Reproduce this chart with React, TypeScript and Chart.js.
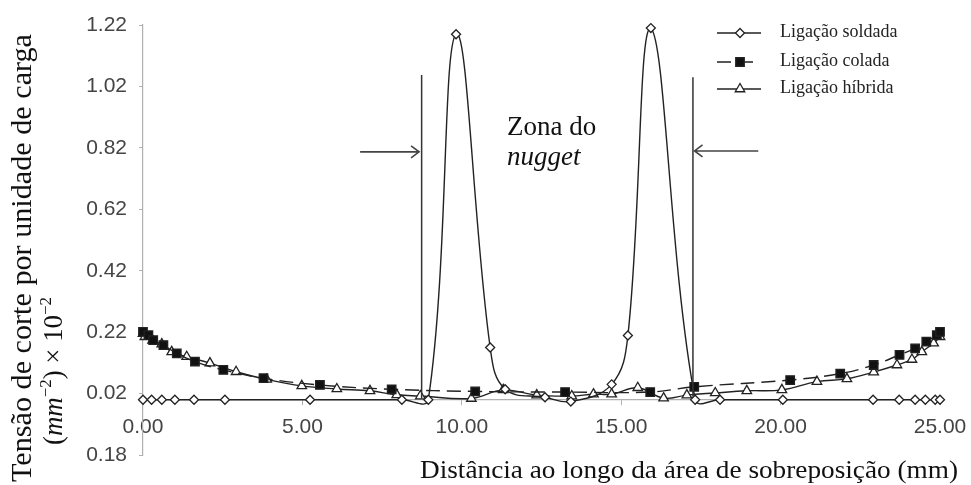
import React, { useEffect, useRef } from "react";
import { Chart, registerables } from "chart.js";

Chart.register(...registerables);

// ---------- data ----------
const soldadaX = [0, 0.27, 0.59, 1.0, 1.6, 2.57, 5.24, 8.12, 8.95, 9.82, 10.89, 11.36, 12.61, 13.42, 14.7, 15.21, 15.93, 17.32, 18.1, 20.07, 22.9, 23.72, 24.22, 24.54, 24.85, 25.0];
const soldadaY = [0, 0, 0, 0, 0, 0, 0, 0, 0, 1.19, 0.17, 0.034, 0.008, -0.006, 0.05, 0.209, 1.21, 0, 0, 0, 0, 0, 0, 0, 0, 0];

const coladaX = [0, 0.17, 0.32, 0.64, 1.06, 1.63, 2.52, 3.78, 5.55, 7.8, 10.42, 13.24, 15.91, 17.29, 20.3, 21.87, 22.92, 23.73, 24.22, 24.57, 24.9, 25.0];
const coladaY = [0.221, 0.21, 0.194, 0.178, 0.151, 0.124, 0.097, 0.07, 0.048, 0.034, 0.027, 0.025, 0.025, 0.042, 0.064, 0.085, 0.113, 0.146, 0.167, 0.189, 0.21, 0.221];

const hibridaX = [0, 0.06, 0.3, 0.59, 0.9, 1.37, 2.1, 2.92, 3.88, 4.98, 6.08, 7.12, 7.96, 8.7, 10.3, 11.3, 12.35, 13.45, 14.13, 14.7, 15.52, 16.33, 17.06, 17.95, 18.94, 20.04, 21.14, 22.08, 22.92, 23.65, 24.12, 24.43, 24.8, 25.0];
const hibridaY = [0.215, 0.205, 0.193, 0.181, 0.156, 0.14, 0.119, 0.091, 0.066, 0.045, 0.035, 0.029, 0.016, 0.012, 0.004, 0.032, 0.015, 0.012, 0.018, 0.018, 0.039, 0.005, 0.015, 0.022, 0.029, 0.032, 0.059, 0.068, 0.09, 0.113, 0.131, 0.156, 0.184, 0.205];

const seriesNames = ["Ligação soldada", "Ligação colada", "Ligação híbrida"];

const xTickValues = [0, 5, 10, 15, 20, 25];
const xTickLabels = ["0.00", "5.00", "10.00", "15.00", "20.00", "25.00"];
const yTickValues = [-0.18, 0.02, 0.22, 0.42, 0.62, 0.82, 1.02, 1.22];
const yTickLabels = ["0.18", "0.02", "0.22", "0.42", "0.62", "0.82", "1.02", "1.22"];

const xTitle = "Distância ao longo da área de sobreposição (mm)";
const yTitle1 = "Tensão de corte por unidade de carga";
const zoneLine1 = "Zona do";
const zoneLine2 = "nugget";

// nugget zone annotation (data coordinates)
const nuggetLeftX = 8.74;
const nuggetRightX = 17.25;

const SERIF = "'Liberation Serif', 'Times New Roman', serif";
const SANS = "'Liberation Sans', Arial, sans-serif";
const INK = "#222";

const pts = (xs: number[], ys: number[]) => xs.map((x, i) => ({ x, y: ys[i] }));

function fitText(ctx: CanvasRenderingContext2D, text: string, x: number, y: number, width: number) {
  const w = ctx.measureText(text).width;
  ctx.save();
  ctx.translate(x, y);
  ctx.scale(width / w, 1);
  ctx.fillText(text, 0, 0);
  ctx.restore();
}

function drawMarker(ctx: CanvasRenderingContext2D, style: string, x: number, y: number, r: number, fill: string) {
  ctx.beginPath();
  if (style === "rectRot") {
    ctx.moveTo(x, y - r); ctx.lineTo(x + r, y); ctx.lineTo(x, y + r); ctx.lineTo(x - r, y); ctx.closePath();
  } else if (style === "rect") {
    const s = r * Math.SQRT1_2;
    ctx.rect(x - s, y - s, 2 * s, 2 * s);
  } else {
    const a = Math.PI * 2 / 3;
    ctx.moveTo(x, y - r);
    ctx.lineTo(x + Math.sin(a) * r, y - Math.cos(a) * r);
    ctx.lineTo(x + Math.sin(2 * a) * r, y - Math.cos(2 * a) * r);
    ctx.closePath();
  }
  ctx.fillStyle = fill;
  ctx.fill();
  ctx.setLineDash([]);
  ctx.lineWidth = 1.3;
  ctx.strokeStyle = INK;
  ctx.stroke();
}

const overlayPlugin = {
  id: "overlay",
  afterDraw(chart: any) {
    const ctx: CanvasRenderingContext2D = chart.ctx;
    const xs = chart.scales.x;
    const ys = chart.scales.y;
    const px = (v: number) => xs.getPixelForValue(v);
    const py = (v: number) => ys.getPixelForValue(v);
    ctx.save();

    // nugget zone vertical lines
    ctx.strokeStyle = "#333";
    ctx.lineWidth = 1.5;
    ctx.setLineDash([]);
    ctx.beginPath();
    ctx.moveTo(px(nuggetLeftX), py(1.057));
    ctx.lineTo(px(nuggetLeftX), py(0.005));
    ctx.moveTo(px(nuggetRightX), py(1.05));
    ctx.lineTo(px(nuggetRightX), py(0.01));
    ctx.stroke();

    // arrows
    const arrow = (x0: number, x1: number, yv: number) => {
      const X0 = px(x0), X1 = px(x1), Y = py(yv);
      const dir = Math.sign(X1 - X0);
      ctx.beginPath();
      ctx.moveTo(X0, Y); ctx.lineTo(X1, Y);
      ctx.moveTo(X1 - dir * 8, Y - 6); ctx.lineTo(X1, Y); ctx.lineTo(X1 - dir * 8, Y + 6);
      ctx.stroke();
    };
    ctx.strokeStyle = "#444";
    ctx.lineWidth = 1.6;
    arrow(6.81, 8.66, 0.807);
    arrow(19.3, 17.3, 0.81);

    // zone text
    ctx.fillStyle = "#111";
    ctx.textAlign = "left";
    ctx.textBaseline = "alphabetic";
    ctx.font = `27px ${SERIF}`;
    ctx.fillText(zoneLine1, px(11.42), py(0.862));
    ctx.font = `italic 27px ${SERIF}`;
    ctx.fillText(zoneLine2, px(11.42), py(0.764));

    // x title
    ctx.font = `25px ${SERIF}`;
    ctx.fillStyle = "#111";
    fitText(ctx, xTitle, 420, 478, 538);

    // y title line 1
    ctx.save();
    ctx.translate(31, 482);
    ctx.rotate(-Math.PI / 2);
    ctx.font = `29px ${SERIF}`;
    fitText(ctx, yTitle1, 0, 0, 448);
    ctx.restore();

    // y title line 2 : (mm^-2) x 10^-2
    ctx.save();
    ctx.translate(62, 445);
    ctx.rotate(-Math.PI / 2);
    const big = 27, small = 17;
    const parts: { t: string; f: string; dy: number }[] = [
      { t: "(", f: `${big}px ${SERIF}`, dy: 0 },
      { t: "mm", f: `italic ${big}px ${SERIF}`, dy: 0 },
      { t: "\u22122", f: `${small}px ${SERIF}`, dy: -11 },
      { t: ") × 10", f: `${big}px ${SERIF}`, dy: 0 },
      { t: "\u22122", f: `${small}px ${SERIF}`, dy: -11 },
    ];
    let total = 0;
    for (const p of parts) { ctx.font = p.f; total += ctx.measureText(p.t).width; }
    const sx = 148 / total;
    ctx.scale(sx, 1);
    let cx = 0;
    for (const p of parts) {
      ctx.font = p.f;
      ctx.fillText(p.t, cx, p.dy);
      cx += ctx.measureText(p.t).width;
    }
    ctx.restore();

    // legend
    const legendRows = [
      { y: 33, style: "rectRot", r: 4.5, fill: "#fff", dash: [] as number[] },
      { y: 62, style: "rect", r: 6, fill: "#111", dash: [14, 8] },
      { y: 89, style: "triangle", r: 5.5, fill: "#fff", dash: [] as number[] },
    ];
    legendRows.forEach((row, i) => {
      ctx.strokeStyle = INK;
      ctx.lineWidth = 1.5;
      ctx.setLineDash(row.dash);
      ctx.beginPath();
      ctx.moveTo(717, row.y);
      ctx.lineTo(761, row.y);
      ctx.stroke();
      ctx.setLineDash([]);
      drawMarker(ctx, row.style, 740, row.y, row.r, row.fill);
      ctx.fillStyle = "#222";
      ctx.font = `18px ${SERIF}`;
      ctx.textBaseline = "alphabetic";
      ctx.fillText(seriesNames[i], 780, row.y + 4);
    });

    ctx.restore();
  },
};

export default function App() {
  const canvasRef = useRef<HTMLCanvasElement | null>(null);

  useEffect(() => {
    if (!canvasRef.current) return;
    const common = {
      borderColor: INK,
      borderWidth: 1.4,
      pointBorderColor: INK,
      pointBorderWidth: 1.3,
      tension: 0.4,
      fill: false,
      clip: false as any,
    };
    const chart = new Chart(canvasRef.current, {
      type: "line",
      data: {
        datasets: [
          {
            ...common,
            label: seriesNames[0],
            data: pts(soldadaX, soldadaY),
            pointStyle: "rectRot",
            pointRadius: 4.5,
            pointBackgroundColor: "#fff",
          },
          {
            ...common,
            label: seriesNames[1],
            data: pts(coladaX, coladaY),
            borderDash: [14, 7],
            pointStyle: "rect",
            pointRadius: 6,
            pointBackgroundColor: "#111",
          },
          {
            ...common,
            label: seriesNames[2],
            data: pts(hibridaX, hibridaY),
            pointStyle: "triangle",
            pointRadius: 5.5,
            pointBackgroundColor: "#fff",
          },
        ],
      },
      options: {
        animation: false,
        responsive: false,
        events: [],
        layout: { padding: { top: 25, right: 31, left: 0, bottom: 30 } },
        plugins: { legend: { display: false }, tooltip: { enabled: false } },
        scales: {
          x: {
            type: "linear",
            min: 0,
            max: 25,
            position: { y: 0 } as any,
            afterBuildTicks: (s: any) => { s.ticks = xTickValues.map((v) => ({ value: v })); },
            afterFit: (s: any) => { s.height = 26; s.paddingLeft = 0; s.paddingRight = 0; },
            ticks: {
              callback: (_v: any, i: number) => xTickLabels[i],
              font: { family: SANS, size: 21 },
              color: "#444",
              padding: 10,
              maxRotation: 0,
              autoSkip: false,
            },
            grid: { drawOnChartArea: false, drawTicks: true, tickLength: 5, color: "#b0b0b0" },
            border: { display: true, color: "#b0b0b0", width: 1.2 },
          },
          y: {
            type: "linear",
            min: -0.18,
            max: 1.22,
            afterBuildTicks: (s: any) => { s.ticks = yTickValues.map((v) => ({ value: v })); },
            afterFit: (s: any) => { s.width = 143; s.paddingTop = 0; s.paddingBottom = 0; },
            ticks: {
              callback: (_v: any, i: number) => yTickLabels[i],
              font: { family: SANS, size: 21 },
              color: "#444",
              padding: 12,
              autoSkip: false,
            },
            grid: { drawOnChartArea: false, drawTicks: true, tickLength: 4, color: "#b0b0b0" },
            border: { display: true, color: "#b0b0b0", width: 1.2 },
          },
        },
      } as any,
      plugins: [overlayPlugin],
    });
    return () => chart.destroy();
  }, []);

  return (
    <div style={{ position: "fixed", left: 0, top: 0, width: 971, height: 485, background: "#fff" }}>
      <canvas ref={canvasRef} width={971} height={485} style={{ display: "block" }} />
    </div>
  );
}
